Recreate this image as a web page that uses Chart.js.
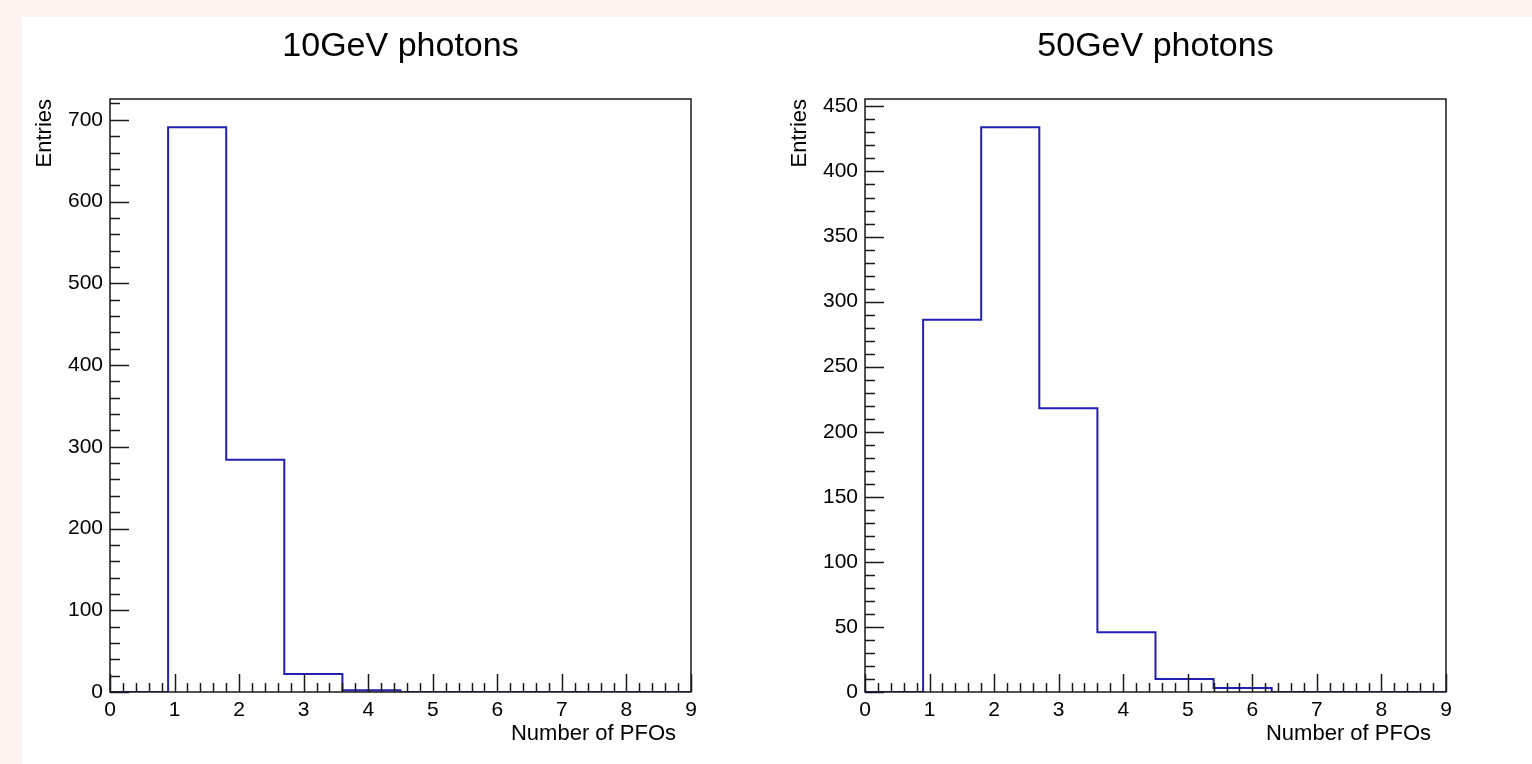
<!DOCTYPE html>
<html>
<head>
<meta charset="utf-8">
<title>Number of PFOs</title>
<script src="https://cdn.jsdelivr.net/npm/chart.js@4.4.1/dist/chart.umd.min.js"></script>
<style>
  html, body { margin: 0; padding: 0; width: 1532px; height: 764px; overflow: hidden; background: #fdf4f1; }
  #pad { position: absolute; left: 22px; top: 17px; width: 1510px; height: 747px; background: #fff; }
  canvas { position: absolute; top: 17px; }
  #c10 { left: 22px; }
  #c50 { left: 777px; }
</style>
</head>
<body>
<div id="pad"></div>
<canvas id="c10" width="757" height="747"></canvas>
<canvas id="c50" width="757" height="747"></canvas>
<script>
// bin edges (width 0.9) and entries per bin
const binEdges = [0, 0.9, 1.8, 2.7, 3.6, 4.5, 5.4, 6.3, 7.2, 8.1, 9];
const entries10GeV = [0, 691, 284, 22, 2, 0, 0, 0, 0, 0];
const entries50GeV = [0, 286, 434, 218, 46, 10, 3, 0, 0, 0];

// tick labels
const xTickLabels = [0, 1, 2, 3, 4, 5, 6, 7, 8, 9];
const yTickLabels10 = [0, 100, 200, 300, 400, 500, 600, 700];
const yTickLabels50 = [0, 50, 100, 150, 200, 250, 300, 350, 400, 450];

// axis maximum (ROOT: 1.05 x peak)
const yMax10 = 725.5;
const yMax50 = 455.7;

const FONT = '"Liberation Sans", Arial, Helvetica, sans-serif';

function histPoints(counts) {
    const pts = counts.map((c, i) => ({ x: binEdges[i], y: c }));
    pts.push({ x: binEdges[binEdges.length - 1], y: 0 });
    return pts;
}

// ROOT-like frame: box, inward major/minor ticks, titles
const rootFrame = {
    id: 'rootFrame',
    afterDatasetsDraw(chart, args, opts) {
        const { ctx, chartArea: a, scales: { x, y } } = chart;
        ctx.save();
        ctx.strokeStyle = '#1a1a1a';
        ctx.lineWidth = 1.5;
        ctx.beginPath();
        const yMinor = opts.yStep / 5;
        for (let i = 0; i * yMinor <= y.max + 1e-9; i++) {
            const py = Math.round(y.getPixelForValue(i * yMinor)) + 0.5;
            ctx.moveTo(a.left, py);
            ctx.lineTo(a.left + (i % 5 === 0 ? 19 : 10), py);
        }
        for (let i = 0; i <= 45; i++) {
            const px = Math.round(x.getPixelForValue(i * 0.2)) + 0.5;
            ctx.moveTo(px, a.bottom);
            ctx.lineTo(px, a.bottom - (i % 5 === 0 ? 18 : 9));
        }
        ctx.stroke();
        ctx.strokeRect(a.left, a.top, a.right - a.left, a.bottom - a.top);

        ctx.fillStyle = '#000';
        ctx.textBaseline = 'alphabetic';
        ctx.font = '22px ' + FONT;
        ctx.textAlign = 'right';
        ctx.fillText('Number of PFOs', a.right - 15, a.bottom + 48);

        ctx.font = '34px ' + FONT;
        ctx.textAlign = 'center';
        ctx.fillText(opts.title, (a.left + a.right) / 2, 39);
        ctx.restore();
    }
};

function makeChart(id, title, counts, yMax, yTicks, yStep) {
    const ctx = document.getElementById(id).getContext('2d');
    return new Chart(ctx, {
        type: 'line',
        data: {
            datasets: [{
                data: histPoints(counts),
                stepped: 'before',
                borderColor: '#2020b4',
                borderWidth: 2,
                pointRadius: 0,
                fill: false
            }]
        },
        options: {
            responsive: false,
            animation: false,
            layout: { padding: { left: 0, right: 88, top: 82, bottom: 0 } },
            plugins: {
                legend: { display: false },
                tooltip: { enabled: false },
                title: { display: false },
                rootFrame: { yStep: yStep, title: title }
            },
            scales: {
                x: {
                    type: 'linear',
                    min: 0,
                    max: 9,
                    grid: { display: false, drawTicks: false },
                    border: { display: false },
                    ticks: {
                        color: '#000',
                        font: { family: FONT, size: 21 },
                        padding: 6,
                        maxRotation: 0,
                        autoSkip: false
                    },
                    afterBuildTicks(s) { s.ticks = xTickLabels.map(v => ({ value: v })); },
                    afterFit(s) { s.height = 72; }
                },
                y: {
                    min: 0,
                    max: yMax,
                    grid: { display: false, drawTicks: false },
                    border: { display: false },
                    ticks: {
                        color: '#000',
                        font: { family: FONT, size: 21 },
                        padding: 7
                    },
                    afterBuildTicks(s) { s.ticks = yTicks.map(v => ({ value: v })); },
                    afterFit(s) { s.width = 88; },
                    title: {
                        display: true,
                        text: 'Entries',
                        align: 'end',
                        color: '#000',
                        font: { family: FONT, size: 22 },
                        padding: { top: 10, bottom: 0 }
                    }
                }
            }
        },
        plugins: [rootFrame]
    });
}

makeChart('c10', '10GeV photons', entries10GeV, yMax10, yTickLabels10, 100);
makeChart('c50', '50GeV photons', entries50GeV, yMax50, yTickLabels50, 50);
</script>
</body>
</html>
